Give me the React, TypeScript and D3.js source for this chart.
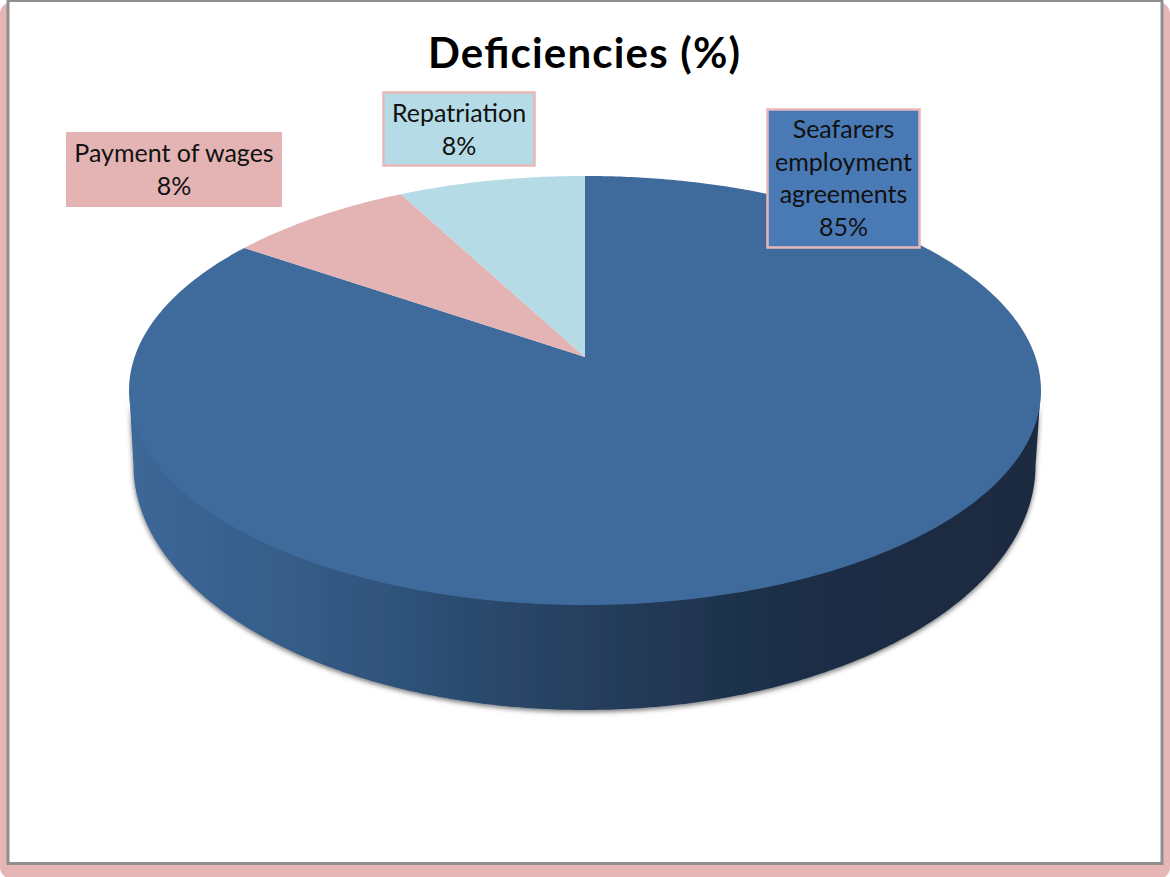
import React from 'react';
import * as d3 from 'd3';

const categories = ['Seafarers employment agreements', 'Payment of wages', 'Repatriation'];
const values = [84.6, 7.7, 7.7];
const percentLabels = ['85%', '8%', '8%'];
const sliceColors = ['#3f6b9c', '#e4b4b4', '#b5dbe6'];

const WIDTH = 1170;
const HEIGHT = 877;
const CX = 585;
const PERSPECTIVE = 0.156;

// top face and bottom rim of the disc, tilted in perspective
const TOP_PLANE = { cx: CX, y0: 357, h: 209.3, r: 450.4 };
const BOTTOM_PLANE = { cx: 584.5, y0: 426.8, h: 239, r: 445.5 };

type Plane = typeof TOP_PLANE;

const project = (plane: Plane, angle: number): [number, number] => {
  const w = 1 + PERSPECTIVE * Math.cos(angle);
  return [plane.cx + (plane.r * Math.sin(angle)) / w, plane.y0 - (plane.h * Math.cos(angle)) / w];
};

const sweep = (plane: Plane, from: number, to: number): [number, number][] => {
  const steps = Math.max(2, Math.ceil(Math.abs(to - from) / 0.01));
  return d3.range(steps + 1).map((i) => project(plane, from + ((to - from) * i) / steps));
};

const line = d3.line();

// label boxes, same order as categories
const LABEL_BOXES = [
  { x: 767.5, y: 109.5, w: 152, h: 138, stroke: '#e6b8b7', fill: '#4a7ab5', lines: ['Seafarers', 'employment', 'agreements'], baseline: 138 },
  { x: 66, y: 132, w: 216, h: 75, stroke: 'none', fill: '#e4b4b4', lines: ['Payment of wages'], baseline: 162 },
  { x: 383.5, y: 92.5, w: 151, h: 73, stroke: '#e6b8b7', fill: '#b5dbe6', lines: ['Repatriation'], baseline: 122 },
];

const WALL_STOPS = [
  { x: 135, color: '#3c6797' },
  { x: 300, color: '#365c87' },
  { x: 400, color: '#2f5279' },
  { x: 600, color: '#253d5c' },
  { x: 800, color: '#1b2d45' },
  { x: 1036, color: '#1a2b41' },
];

const FONT = 'Lato, Carlito, sans-serif';
const LINE_GAP = 32.5;

const App: React.FC = () => {
  const pie = d3.pie<number>().value((d) => d).sort(null);
  const arcs = pie(values);

  const wallStart = Math.PI - Math.acos(PERSPECTIVE);
  const wallEnd = Math.PI + Math.acos(PERSPECTIVE);
  // upper edge sits a little under the top face so no light seam shows
  const underTop = { ...TOP_PLANE, y0: TOP_PLANE.y0 - 3 };
  const wallPath =
    line([...sweep(underTop, wallStart, wallEnd), ...sweep(BOTTOM_PLANE, wallEnd, wallStart)]) + 'Z';

  const wallX = d3.scaleLinear().domain([135, 1036]).range([0, 100]);

  return (
    <svg
      width={WIDTH}
      height={HEIGHT}
      style={{ position: 'absolute', left: 0, top: 0, background: '#fff' }}
    >
      <defs>
        <linearGradient id="wall" gradientUnits="userSpaceOnUse" x1={135} x2={1036} y1={0} y2={0}>
          {WALL_STOPS.map((s) => (
            <stop key={s.x} offset={`${wallX(s.x)}%`} stopColor={s.color} />
          ))}
        </linearGradient>
        <filter id="discShadow" x="-5%" y="-5%" width="110%" height="110%">
          <feDropShadow dx={0} dy={2} stdDeviation={2.5} floodColor="#000" floodOpacity={0.55} />
        </filter>
      </defs>

      {/* frame */}
      <rect x={0} y={2} width={WIDTH} height={HEIGHT} rx={12} fill="#e6b5b5" />
      <rect x={8} y={0.5} width={1154} height={863} fill="#fff" stroke="#8f8f8f" strokeWidth={3} />

      <text
        x={584}
        y={68}
        textAnchor="middle"
        fontFamily={FONT}
        fontWeight={700}
        fontSize={42}
        textLength={312}
        lengthAdjust="spacing"
        fill="#000"
      >
        Deficiencies (%)
      </text>

      <path d={wallPath} fill="url(#wall)" filter="url(#discShadow)" />

      {arcs.map((arc, i) => (
        <path
          key={categories[i]}
          d={
            line([
              [TOP_PLANE.cx, TOP_PLANE.y0],
              ...sweep(TOP_PLANE, arc.startAngle, arc.endAngle),
            ]) + 'Z'
          }
          fill={sliceColors[i]}
        />
      ))}

      {LABEL_BOXES.map((box, i) => (
        <g key={categories[i]}>
          <rect
            x={box.x}
            y={box.y}
            width={box.w}
            height={box.h}
            fill={box.fill}
            stroke={box.stroke}
            strokeWidth={2.5}
          />
          <text
            textAnchor="middle"
            fontFamily={FONT}
            fontSize={25}
            fill="#111"
          >
            {[...box.lines, percentLabels[i]].map((t, j) => (
              <tspan key={t} x={box.x + box.w / 2} y={box.baseline + j * LINE_GAP}>
                {t}
              </tspan>
            ))}
          </text>
        </g>
      ))}
    </svg>
  );
};

export default App;
